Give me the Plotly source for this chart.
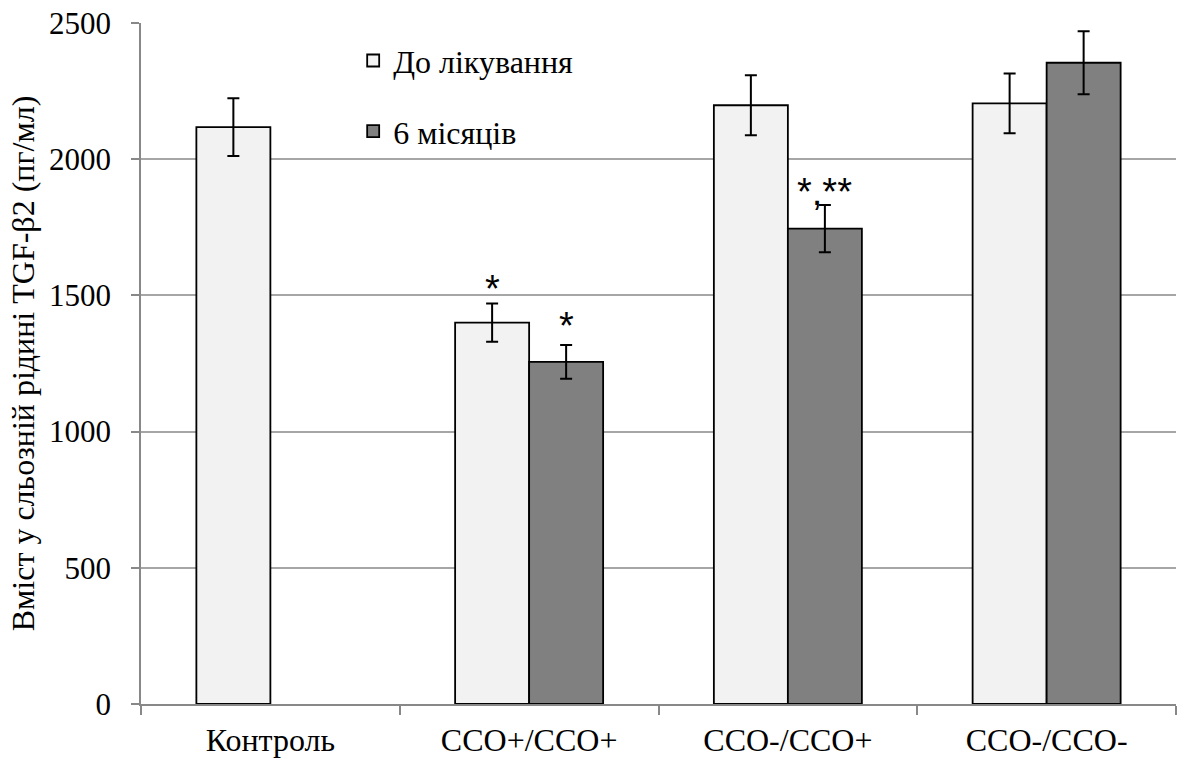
import plotly.graph_objects as go

categories = ["Контроль", "CCO+/CCO+", "CCO-/CCO+", "CCO-/CCO-"]
before_vals = [2118, 1400, 2198, 2205]
before_err = [106, 70, 110, 110]
after_vals = [None, 1256, 1745, 2354]
after_err = [0, 62, 87, 116]
series_names = ["До лікування", "6 місяців"]
before_marks = ["", "*", "", ""]
after_marks = ["", "*", "*,**", ""]
y_ticks = [0, 500, 1000, 1500, 2000, 2500]

BARGAP = 0.428
SERIF = "Liberation Serif"
FS = 32
STAR_FONT = dict(family="Liberation Sans", size=38, color="black")
before_shift = {1: -8}
after_shift = {1: -4, 2: -10}

fig = go.Figure()
fig.add_trace(go.Bar(
    x=categories, y=before_vals, name=series_names[0],
    marker=dict(color="#f2f2f2", line=dict(color="black", width=1.8)),
    error_y=dict(type="data", array=before_err, color="black", thickness=2, width=6),
    legendgroup="a",
))
fig.add_trace(go.Bar(
    x=categories, y=after_vals, name=series_names[1],
    marker=dict(color="#808080", line=dict(color="black", width=1.8)),
    error_y=dict(type="data", array=after_err, color="black", thickness=2, width=6),
    legendgroup="b",
))

w = (1 - BARGAP) / 2
for i, (m, v, e) in enumerate(zip(before_marks, before_vals, before_err)):
    if m:
        fig.add_annotation(x=i - w / 2, y=v + e, text=m, showarrow=False,
                           yanchor="bottom", yshift=before_shift.get(i, -8),
                           font=STAR_FONT)
for i, (m, v, e) in enumerate(zip(after_marks, after_vals, after_err)):
    if m and v is not None:
        fig.add_annotation(x=i + w / 2, y=v + e, text=m, showarrow=False,
                           yanchor="bottom", yshift=after_shift.get(i, -8),
                           font=STAR_FONT)

fig.update_layout(
    width=1182, height=760,
    margin=dict(l=141, r=6, t=23, b=56),
    paper_bgcolor="white", plot_bgcolor="white",
    barmode="group", bargap=BARGAP, bargroupgap=0,
    font=dict(family=SERIF, size=FS, color="black"),
    legend=dict(x=0.205, y=0.985, xanchor="left", yanchor="top",
                font=dict(family=SERIF, size=FS), tracegroupgap=26,
                bgcolor="rgba(0,0,0,0)", itemwidth=30),
    showlegend=True,
)
fig.update_xaxes(
    type="category", tickson="boundaries", ticks="outside", ticklen=9,
    tickcolor="#888888", tickwidth=1.5, showline=True, linecolor="#888888",
    linewidth=1.5, showgrid=False, tickfont=dict(family=SERIF, size=FS),
    ticklabelstandoff=7, automargin=False,
)
fig.update_yaxes(
    range=[0, 2500], tickvals=y_ticks, ticks="outside", ticklen=8,
    tickcolor="#888888", tickwidth=1.5, showline=True, linecolor="#888888",
    linewidth=1.5, showgrid=True, gridcolor="#a6a6a6", gridwidth=1.5,
    zeroline=False, tickfont=dict(family=SERIF, size=31),
    ticklabelstandoff=14, automargin=False,
    title=dict(text="Вміст у сльозній рідині TGF-β2 (пг/мл)",
               font=dict(family=SERIF, size=FS), standoff=5),
)

fig.write_html("out.html")
